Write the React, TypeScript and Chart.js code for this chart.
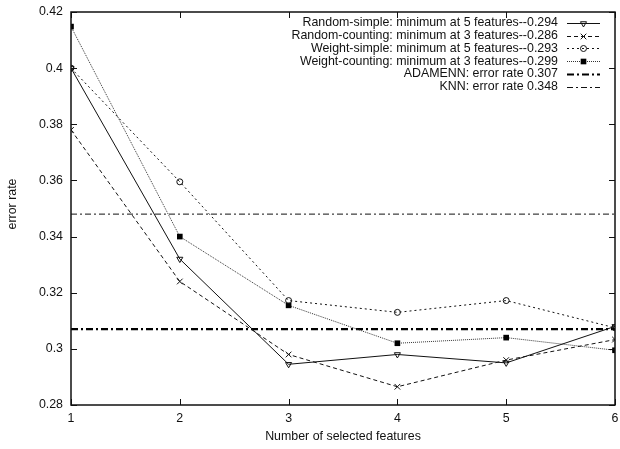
import React, { useEffect, useRef } from 'react';
import { Chart, registerables } from 'chart.js';

Chart.register(...registerables);

const features = [1, 2, 3, 4, 5, 6];
const randomSimple = [0.4, 0.332, 0.2945, 0.298, 0.295, 0.308];
const randomCounting = [0.378, 0.324, 0.298, 0.2865, 0.296, 0.3033];
const weightSimple = [0.4, 0.3595, 0.3172, 0.313, 0.3172, 0.3075];
const weightCounting = [0.4148, 0.34, 0.3155, 0.302, 0.304, 0.2995];
const adamennRate = 0.307;
const knnRate = 0.348;
const xRange = [1, 6];
const yMin = 0.28;
const yMax = 0.42;
const yStep = 0.02;

const seriesLabels = [
  'Random-simple: minimum at 5 features--0.294',
  'Random-counting: minimum at 3 features--0.286',
  'Weight-simple: minimum at 5 features--0.293',
  'Weight-counting: minimum at 3 features--0.299',
  'ADAMENN: error rate 0.307',
  'KNN: error rate 0.348',
];
const xTitle = 'Number of selected features';
const yTitle = 'error rate';

const FONT = "'Liberation Sans', Arial, Helvetica, sans-serif";
const FS = 12.4;

const toPoints = (vals: number[]) => vals.map((v, i) => ({ x: features[i], y: v }));
const flatLine = (v: number) => xRange.map((x) => ({ x, y: v }));

function drawMarker(ctx: CanvasRenderingContext2D, style: string, x: number, y: number, r: number, rot: number) {
  ctx.beginPath();
  if (style === 'triangle') {
    const s = rot === 180 ? 1 : -1;
    ctx.moveTo(x, y + s * r);
    ctx.lineTo(x - r * 0.866, y - s * r * 0.5);
    ctx.lineTo(x + r * 0.866, y - s * r * 0.5);
    ctx.closePath();
    ctx.stroke();
  } else if (style === 'crossRot') {
    const d = r * 0.707;
    ctx.moveTo(x - d, y - d);
    ctx.lineTo(x + d, y + d);
    ctx.moveTo(x - d, y + d);
    ctx.lineTo(x + d, y - d);
    ctx.stroke();
  } else if (style === 'circle') {
    ctx.arc(x, y, r, 0, Math.PI * 2);
    ctx.stroke();
  } else if (style === 'rect') {
    const s = r * Math.SQRT1_2;
    ctx.rect(x - s, y - s, 2 * s, 2 * s);
    ctx.fill();
  }
}

const framePlugin = {
  id: 'frame',
  afterDraw(chart: any) {
    const { ctx, chartArea: a, scales } = chart;
    const xs = scales.x;
    const ys = scales.y;
    ctx.save();
    ctx.strokeStyle = '#111';
    ctx.lineWidth = 1;
    ctx.setLineDash([]);
    const L = 6;
    ctx.beginPath();
    xs.ticks.forEach((t: any) => {
      const px = Math.round(xs.getPixelForValue(t.value)) + 0.5;
      ctx.moveTo(px, a.bottom);
      ctx.lineTo(px, a.bottom - L);
      ctx.moveTo(px, a.top);
      ctx.lineTo(px, a.top + L);
    });
    ys.ticks.forEach((t: any) => {
      const py = Math.round(ys.getPixelForValue(t.value)) + 0.5;
      ctx.moveTo(a.left, py);
      ctx.lineTo(a.left + L, py);
      ctx.moveTo(a.right, py);
      ctx.lineTo(a.right - L, py);
    });
    ctx.stroke();
    ctx.lineWidth = 1.5;
    ctx.strokeRect(a.left, a.top, a.right - a.left, a.bottom - a.top);

    // axis titles
    ctx.fillStyle = '#111';
    ctx.font = `${FS}px ${FONT}`;
    ctx.textAlign = 'center';
    ctx.textBaseline = 'middle';
    ctx.fillText(xTitle, (a.left + a.right) / 2, 437);
    ctx.save();
    ctx.translate(13, 204);
    ctx.rotate(-Math.PI / 2);
    ctx.fillText(yTitle, 0, 0);
    ctx.restore();

    // legend
    const textRight = 558;
    const sx0 = 567;
    const sx1 = 600;
    const y0 = 23;
    const dy = 12.7;
    chart.data.datasets.forEach((ds: any, i: number) => {
      const y = y0 + dy * i;
      ctx.fillStyle = '#111';
      ctx.textAlign = 'right';
      ctx.textBaseline = 'middle';
      ctx.font = `${FS}px ${FONT}`;
      ctx.fillText(ds.label, textRight, y);
      ctx.save();
      ctx.strokeStyle = ds.borderColor;
      ctx.lineWidth = ds.borderWidth;
      ctx.setLineDash(ds.borderDash || []);
      ctx.beginPath();
      ctx.moveTo(sx0, Math.round(y) + 0.5);
      ctx.lineTo(sx1, Math.round(y) + 0.5);
      ctx.stroke();
      ctx.restore();
      if (ds.pointRadius > 0) {
        ctx.save();
        ctx.setLineDash([]);
        ctx.strokeStyle = ds.pointBorderColor;
        ctx.fillStyle = ds.pointBackgroundColor;
        ctx.lineWidth = 1;
        drawMarker(ctx, ds.pointStyle, (sx0 + sx1) / 2, Math.round(y) + 0.5, ds.pointRadius, ds.pointRotation || 0);
        ctx.restore();
      }
    });
    ctx.restore();
  },
};

export default function App() {
  const ref = useRef<HTMLCanvasElement | null>(null);
  useEffect(() => {
    if (!ref.current) return;
    const chart = new Chart(ref.current, {
      type: 'line',
      data: {
        datasets: [
          {
            label: seriesLabels[0],
            data: toPoints(randomSimple),
            borderColor: '#111',
            borderWidth: 1,
            borderDash: [],
            pointStyle: 'triangle',
            pointRotation: 180,
            pointRadius: 3.5,
            pointBorderColor: '#111',
            pointBackgroundColor: 'rgba(0,0,0,0)',
            pointBorderWidth: 1,
          },
          {
            label: seriesLabels[1],
            data: toPoints(randomCounting),
            borderColor: '#111',
            borderWidth: 1,
            borderDash: [4, 3],
            pointStyle: 'crossRot',
            pointRadius: 4,
            pointBorderColor: '#111',
            pointBackgroundColor: 'rgba(0,0,0,0)',
            pointBorderWidth: 1,
          },
          {
            label: seriesLabels[2],
            data: toPoints(weightSimple),
            borderColor: '#111',
            borderWidth: 1,
            borderDash: [2, 3],
            pointStyle: 'circle',
            pointRadius: 3,
            pointBorderColor: '#111',
            pointBackgroundColor: 'rgba(0,0,0,0)',
            pointBorderWidth: 1,
          },
          {
            label: seriesLabels[3],
            data: toPoints(weightCounting),
            borderColor: '#333',
            borderWidth: 1,
            borderDash: [1, 1],
            pointStyle: 'rect',
            pointRadius: 4,
            pointBorderColor: '#000',
            pointBackgroundColor: '#000',
            pointBorderWidth: 0,
          },
          {
            label: seriesLabels[4],
            data: flatLine(adamennRate),
            borderColor: '#000',
            borderWidth: 2.2,
            borderDash: [7, 3, 2, 3],
            pointRadius: 0,
            pointBorderColor: '#000',
            pointBackgroundColor: '#000',
          },
          {
            label: seriesLabels[5],
            data: flatLine(knnRate),
            borderColor: '#111',
            borderWidth: 1,
            borderDash: [6, 3, 2, 3],
            pointRadius: 0,
            pointBorderColor: '#000',
            pointBackgroundColor: '#000',
          },
        ] as any,
      },
      options: {
        responsive: false,
        animation: false,
        devicePixelRatio: 1,
        layout: { padding: { top: 12, right: 5, left: 0, bottom: 0 } },
        plugins: { legend: { display: false }, tooltip: { enabled: false } },
        elements: { line: { tension: 0 } },
        scales: {
          x: {
            type: 'linear',
            min: xRange[0],
            max: xRange[1],
            grid: { display: false, drawTicks: false },
            border: { display: false },
            ticks: {
              stepSize: 1,
              color: '#111',
              padding: 6,
              font: { family: FONT, size: FS },
              maxRotation: 0,
            },
            afterFit(s: any) {
              s.height = 44;
              s.paddingLeft = 0;
              s.paddingRight = 0;
            },
          },
          y: {
            type: 'linear',
            min: yMin,
            max: yMax,
            grid: { display: false, drawTicks: false },
            border: { display: false },
            ticks: {
              stepSize: yStep,
              color: '#111',
              padding: 8,
              font: { family: FONT, size: FS },
              callback: (v: any) => String(Number(Number(v).toFixed(2))),
            },
            afterFit(s: any) {
              s.width = 71;
              s.paddingTop = 0;
              s.paddingBottom = 0;
            },
          },
        },
      } as any,
      plugins: [framePlugin],
    });
    return () => chart.destroy();
  }, []);
  return (
    <div style={{ position: 'fixed', left: 0, top: 0, width: 620, height: 449, background: '#fff' }}>
      <canvas ref={ref} width={620} height={449} />
    </div>
  );
}
